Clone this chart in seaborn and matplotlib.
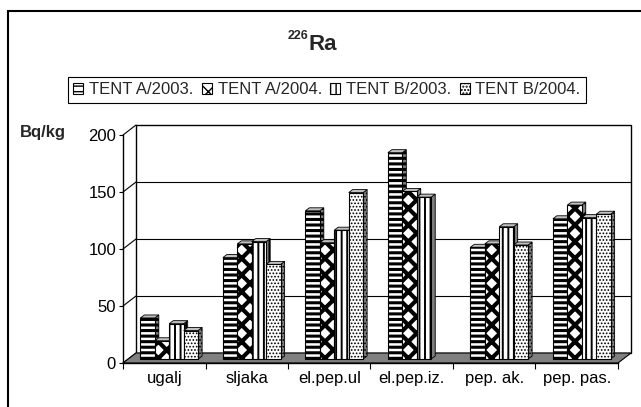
import numpy as np
import pandas as pd
import matplotlib
matplotlib.use("Agg")
import matplotlib.pyplot as plt
import matplotlib.transforms as mtransforms
from matplotlib.patches import Polygon, Rectangle, Patch
import seaborn as sns

# podaci (Bq/kg), ocitano sa slike
categories = ["ugalj", "sljaka", "el.pep.ul", "el.pep.iz.", "pep. ak.", "pep. pas."]
series = ["TENT A/2003.", "TENT A/2004.", "TENT B/2003.", "TENT B/2004."]
tent_a_2003 = [36, 89, 130, 181, 98, 123]
tent_a_2004 = [16, 101, 102, 147, 101, 135]
tent_b_2003 = [31, 103, 113, 142, 116, 124]
tent_b_2004 = [25, 83, 146, np.nan, 100, 127]
y_ticks = [0, 50, 100, 150, 200]

# uzorci (hatch) za svaku seriju
hatches = ["---", "xx", "|||", "....."]
hatch_lw = [2.2, 3.0, 1.4, 0.8]

# pomaci za pseudo 3D, u pikselima
BACK = (13, 10)
BAR = (5, 4)
DEPTH = (4, 3)

df = pd.DataFrame({
    "kategorija": categories * 4,
    "serija": np.repeat(series, len(categories)),
    "vrijednost": tent_a_2003 + tent_a_2004 + tent_b_2003 + tent_b_2004,
})

sns.set_style("white")
plt.rcParams["font.family"] = ["Liberation Sans", "DejaVu Sans"]

fig = plt.figure(figsize=(6.41, 4.07), dpi=100)
W, H = 641, 407
ax = fig.add_axes([123 / W, (H - 363) / H, (618 - 123) / W, (363 - 135) / H])

sns.barplot(data=df, x="kategorija", y="vrijednost", hue="serija",
            order=categories, hue_order=series, width=0.7,
            palette={s: "white" for s in series}, saturation=1,
            edgecolor="black", linewidth=0.8, errorbar=None,
            legend=False, ax=ax)

ax.set_xlim(-0.5, 5.5)
ax.set_ylim(0, 200)
ax.set_xlabel("")
ax.set_ylabel("")


def px_off(dx, dy):
    return mtransforms.ScaledTranslation(dx / fig.dpi, dy / fig.dpi, fig.dpi_scale_trans)


to_data = ax.transData.inverted()


def shifted(x, y, dx, dy):
    X, Y = ax.transData.transform((x, y))
    return tuple(to_data.transform((X + dx, Y + dy)))


def set_hlw(p, lw):
    if hasattr(p, "set_hatch_linewidth"):
        p.set_hatch_linewidth(lw)


back = ax.transData + px_off(*BACK)

# zadnji zid i mreza
ax.add_patch(Rectangle((-0.5, 0), 6, 200, transform=back, facecolor="white",
                       edgecolor="black", lw=1, zorder=0.3, clip_on=False))
for v in y_ticks[1:-1]:
    ax.plot([-0.5, 5.5], [v, v], transform=back, color="black", lw=0.8,
            zorder=0.4, clip_on=False)
# lijevi zid
for v in y_ticks:
    bx, by = shifted(-0.5, v, *BACK)
    ax.plot([-0.5, bx], [v, by], color="black", lw=0.8, zorder=0.4, clip_on=False)

# pod
ax.add_patch(Polygon([(-0.5, 0), (5.5, 0), shifted(5.5, 0, *BACK), shifted(-0.5, 0, *BACK)],
                     closed=True, facecolor="#808080", edgecolor="black", lw=0.8,
                     zorder=0.5, clip_on=False))

# stupci s bocnom i gornjom plohom
for i, cont in enumerate(ax.containers):
    for p in cont.patches:
        h = p.get_height()
        if not np.isfinite(h) or h == 0:
            continue
        x0 = p.get_x()
        x1 = x0 + p.get_width()
        z = 3 + x0
        p.set_transform(ax.transData + px_off(*BAR))
        p.set_hatch(hatches[i])
        set_hlw(p, hatch_lw[i])
        p.set_zorder(z)
        p.set_clip_on(False)

        fx0, fy0 = shifted(x0, 0, *BAR)
        fx1, fh = shifted(x1, h, *BAR)
        bx1, bh = shifted(x1, h, BAR[0] + DEPTH[0], BAR[1] + DEPTH[1])
        bx0, _ = shifted(x0, h, BAR[0] + DEPTH[0], BAR[1] + DEPTH[1])
        _, bb = shifted(x1, 0, BAR[0] + DEPTH[0], BAR[1] + DEPTH[1])

        side = Polygon([(fx1, fy0), (fx1, fh), (bx1, bh), (bx1, bb)], closed=True,
                       facecolor="#808080", edgecolor="black", lw=0.6,
                       hatch=hatches[i], zorder=z - 0.01, clip_on=False)
        set_hlw(side, hatch_lw[i])
        top = Polygon([(fx0, fh), (fx1, fh), (bx1, bh), (bx0, bh)], closed=True,
                      facecolor="#c0c0c0", edgecolor="black", lw=0.6,
                      zorder=z - 0.005, clip_on=False)
        ax.add_patch(side)
        ax.add_patch(top)

# osi
for s in ["top", "right"]:
    ax.spines[s].set_visible(False)
for s in ["left", "bottom"]:
    ax.spines[s].set_color("black")
    ax.spines[s].set_linewidth(1)
    ax.spines[s].set_zorder(0.6)

ax.set_yticks(y_ticks)
ax.set_xticks(range(len(categories)))
ax.set_xticklabels(categories)
ax.set_xticks(np.arange(-0.5, len(categories), 1), minor=True)
ax.tick_params(axis="y", left=True, length=3, width=0.8, direction="out",
               pad=2, labelsize=12, colors="black")
ax.tick_params(axis="x", which="major", bottom=True, length=0, pad=6,
               labelsize=12, colors="black")
ax.tick_params(axis="x", which="minor", bottom=True, length=4, width=0.8,
               direction="out", colors="black")

# naslov i oznaka jedinice
fig.text(308 / W, 1 - 44 / H, "Ra", fontsize=16, fontweight="bold", ha="left", va="center")
fig.text(308 / W, 1 - 36 / H, "226", fontsize=9, fontweight="bold", ha="right", va="center")
fig.text(20 / W, 1 - 133 / H, "Bq/kg", fontsize=12, fontweight="bold", ha="left", va="center")

# legenda
handles = []
for i, s in enumerate(series):
    hp = Patch(facecolor="white", edgecolor="black", hatch=hatches[i], lw=0.8)
    set_hlw(hp, hatch_lw[i] * 0.6)
    handles.append(hp)
leg = fig.legend(handles, series, loc="center", bbox_to_anchor=(327 / W, 1 - 90 / H),
                 ncol=4, frameon=True, fancybox=False, edgecolor="black", framealpha=1,
                 fontsize=12, handlelength=0.6, handleheight=0.6, handletextpad=0.35,
                 columnspacing=0.5, borderpad=0.35, borderaxespad=0)
leg.get_frame().set_linewidth(0.8)

# okvir slike
fig.add_artist(Rectangle((8 / W, -0.05), 1.0, 1 - 11 / H + 0.05, transform=fig.transFigure,
                         fill=False, edgecolor="black", lw=1.5))

fig.savefig("out.png", dpi=100)
plt.close(fig)
